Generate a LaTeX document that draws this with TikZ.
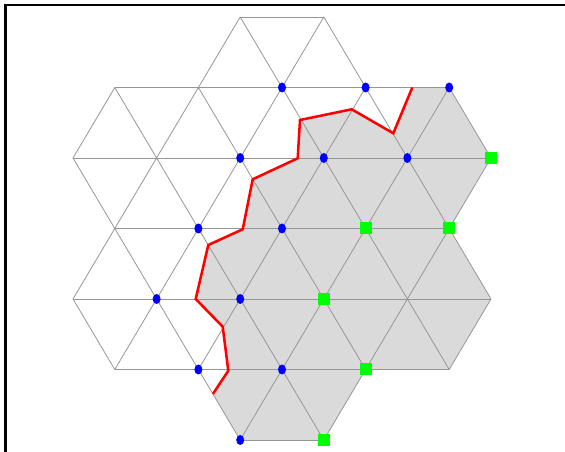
\documentclass[tikz,border=0pt]{standalone}
\usepackage{xcolor}
\usepackage{tikz}
\usetikzlibrary{shapes.geometric}
\definecolor{cellgray}{RGB}{218,218,218}
\definecolor{latgray}{RGB}{150,150,150}

\begin{document}
\begin{tikzpicture}[x=0.75pt,y=-0.75pt,
  edge/.style={draw=latgray,line width=0.6pt,line join=round},
  cut/.style={draw=red,line width=1.9pt},
  bdot/.style={ellipse,fill=blue,inner sep=0pt,minimum width=6pt,minimum height=7.5pt},
  gsq/.style={rectangle,fill=green,inner sep=0pt,minimum size=9pt}
]
\useasboundingbox (0,0) rectangle (565,452);
% frame (only left and top edges are inside the picture)
\draw[line width=1.9pt] (5.5,460) -- (5.5,5) -- (570,5);

% lattice points: row r, column k
\foreach \r in {0,...,6}
  \foreach \k in {0,...,10}
    \coordinate (v\r-\k) at ({73+41.8*\k},{17+70.5*\r});

% points of the red exploration path
\coordinate (c0)  at (412.3,87.5);
\coordinate (c1)  at (393.3,133.3);
\coordinate (c2)  at (351.7,109.3);
\coordinate (c3)  at (300,120);
\coordinate (c4)  at (297.7,158.3);
\coordinate (c5)  at (252.7,179.3);
\coordinate (c6)  at (242.7,229.3);
\coordinate (c7)  at (208.3,245);
\coordinate (c8)  at (195.7,299);
\coordinate (c9)  at (222.7,326.7);
\coordinate (c10) at (228.3,370.7);
\coordinate (c11) at (212.9,394);

% shaded side of the path
\fill[cellgray] (c0) -- (c1) -- (c2) -- (c3) -- (c4) -- (c5) -- (c6) -- (c7)
  -- (c8) -- (c9) -- (c10) -- (c11) -- (v6-4) -- (v6-6) -- (v5-7) -- (v5-9)
  -- (v4-10) -- (v3-9) -- (v2-10) -- (v1-9) -- cycle;

% horizontal edges
\foreach \r/\a/\b in {0/4/6,1/1/9,2/0/10,3/1/9,4/0/10,5/1/9,6/4/6}
  \draw[edge] (v\r-\a) -- (v\r-\b);
% slanted edges, one zigzag per band
\foreach \e/\o in {2/1,2/3,4/3,4/5}
  \draw[edge] (v\e-0) \foreach \k/\kk in {1/2,3/4,5/6,7/8,9/10} {-- (v\o-\k) -- (v\e-\kk)};
\draw[edge] (v1-3) -- (v0-4) -- (v1-5) -- (v0-6) -- (v1-7);
\draw[edge] (v5-3) -- (v6-4) -- (v5-5) -- (v6-6) -- (v5-7);

\draw[cut] (c0) -- (c1) -- (c2) -- (c3) -- (c4) -- (c5) -- (c6) -- (c7)
  -- (c8) -- (c9) -- (c10) -- (c11);

% marked sites
\foreach \n/\p in {1/1-5,2/1-7,3/1-9,4/2-4,5/2-6,6/2-8,7/3-3,8/3-5,9/4-2,10/4-4,11/5-3,12/5-5,13/6-4}
  \node[bdot] (b\n) at (v\p) {};
\foreach \n/\p in {1/2-10,2/3-7,3/3-9,4/4-6,5/5-7,6/6-6}
  \node[gsq] (g\n) at (v\p) {};
\end{tikzpicture}
\end{document}
